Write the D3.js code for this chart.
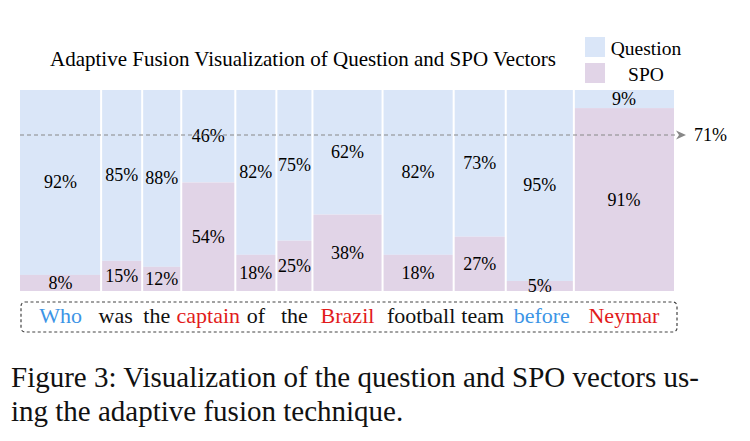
<!DOCTYPE html>
<html>
<head>
<meta charset="utf-8">
<script src="https://cdn.jsdelivr.net/npm/d3@7"></script>
<style>
  body { margin: 0; background: #fff; }
  svg text { font-family: "Liberation Serif", "Times New Roman", serif; }
</style>
</head>
<body>
<svg id="chart" width="750" height="441"></svg>
<script>
// data
const words = ["Who", "was", "the", "captain", "of", "the", "Brazil", "football", "team", "before", "Neymar"];
const wordColors = ["blue", "black", "black", "red", "black", "black", "red", "black", "black", "blue", "red"];
const weights = [81, 41, 39, 54, 41, 36, 70, 71, 52, 68, 100];   // relative column widths
const question = [92, 85, 88, 46, 82, 75, 62, 82, 73, 95, 9];
const spo = [8, 15, 12, 54, 18, 25, 38, 18, 27, 5, 91];
const refLabel = "71%";
const refLevel = 77.6;

const colors = {question: "#dae6f8", spo: "#e1d4e7", blue: "#3d95e6", red: "#e21b1b", black: "#111"};

const svg = d3.select("#chart");

const cum = [0];
weights.forEach(w => cum.push(cum[cum.length - 1] + w));

const x = d3.scaleLinear().domain([0, cum[cum.length - 1]]).range([20, 674]);
const y = d3.scaleLinear().domain([0, 100]).range([291, 90]);

const data = words.map((w, i) => ({
    word: w, i: i, x0: cum[i], x1: cum[i + 1], q: question[i], s: spo[i]
}));

// title
svg.append("text")
    .attr("x", 303).attr("y", 66)
    .attr("text-anchor", "middle")
    .style("font-size", "21px")
    .text("Adaptive Fusion Visualization of Question and SPO Vectors");

// legend
const legend = [{name: "Question", c: colors.question}, {name: "SPO", c: colors.spo}];
const lg = svg.append("g").selectAll("g").data(legend).join("g")
    .attr("transform", (d, i) => `translate(585,${37 + i * 26})`);
lg.append("rect").attr("width", 20).attr("height", 20).attr("fill", d => d.c);
lg.append("text")
    .attr("x", 61).attr("y", 18)
    .attr("text-anchor", "middle")
    .style("font-size", "19.5px")
    .text(d => d.name);

// columns
const col = svg.append("g").selectAll("g").data(data).join("g");

col.append("rect")
    .attr("x", d => x(d.x0))
    .attr("width", d => x(d.x1) - x(d.x0))
    .attr("y", d => y(100))
    .attr("height", d => y(d.s) - y(100))
    .attr("fill", colors.question);

col.append("rect")
    .attr("x", d => x(d.x0))
    .attr("width", d => x(d.x1) - x(d.x0))
    .attr("y", d => y(d.s))
    .attr("height", d => y(0) - y(d.s))
    .attr("fill", colors.spo);

// white separators between columns
svg.append("g").selectAll("line").data(cum.slice(1, -1)).join("line")
    .attr("x1", d => x(d)).attr("x2", d => x(d))
    .attr("y1", y(100)).attr("y2", y(0))
    .attr("stroke", "#fff").attr("stroke-width", 2);

// reference line
svg.append("line")
    .attr("x1", x(0)).attr("x2", 677)
    .attr("y1", y(refLevel)).attr("y2", y(refLevel))
    .attr("stroke", "#888").attr("stroke-width", 1.2)
    .attr("stroke-dasharray", "4,3");
svg.append("path")
    .attr("d", `M676,${y(refLevel) - 4.5} L686,${y(refLevel)} L676,${y(refLevel) + 4.5} L679,${y(refLevel)} Z`)
    .attr("fill", "#888");
svg.append("text")
    .attr("x", 694).attr("y", y(refLevel) + 6)
    .style("font-size", "18px")
    .text(refLabel);

// percentage labels
col.append("text")
    .attr("x", d => x((d.x0 + d.x1) / 2))
    .attr("y", d => y(d.s + d.q / 2) + 6)
    .attr("text-anchor", "middle")
    .style("font-size", "18px")
    .text(d => d.q + "%");

col.append("text")
    .attr("x", d => x((d.x0 + d.x1) / 2))
    .attr("y", d => y(d.s / 2) + 6)
    .attr("text-anchor", "middle")
    .style("font-size", "18px")
    .text(d => d.s + "%");

// sentence box
svg.append("rect")
    .attr("x", 21).attr("y", 302)
    .attr("width", 656).attr("height", 30)
    .attr("rx", 4)
    .attr("fill", "none")
    .attr("stroke", "#444").attr("stroke-width", 1.2)
    .attr("stroke-dasharray", "3,2.5");

// small horizontal nudges so the words don't collide
const nudge = [0, -6, -5, 0, 0, 0, 0, 3, 3, 2, 0];
svg.append("g").selectAll("text").data(data).join("text")
    .attr("x", d => x((d.x0 + d.x1) / 2) + nudge[d.i])
    .attr("y", 323)
    .attr("text-anchor", "middle")
    .style("font-size", "22px")
    .attr("fill", d => colors[wordColors[d.i]])
    .text(d => d.word);

// caption
const caption = ["Figure 3: Visualization of the question and SPO vectors us-",
                 "ing the adaptive fusion technique."];
svg.append("g").selectAll("text").data(caption).join("text")
    .attr("x", 11)
    .attr("y", (d, i) => 387 + i * 34)
    .style("font-size", "29px")
    .attr("fill", "#111")
    .text(d => d);
</script>
</body>
</html>
